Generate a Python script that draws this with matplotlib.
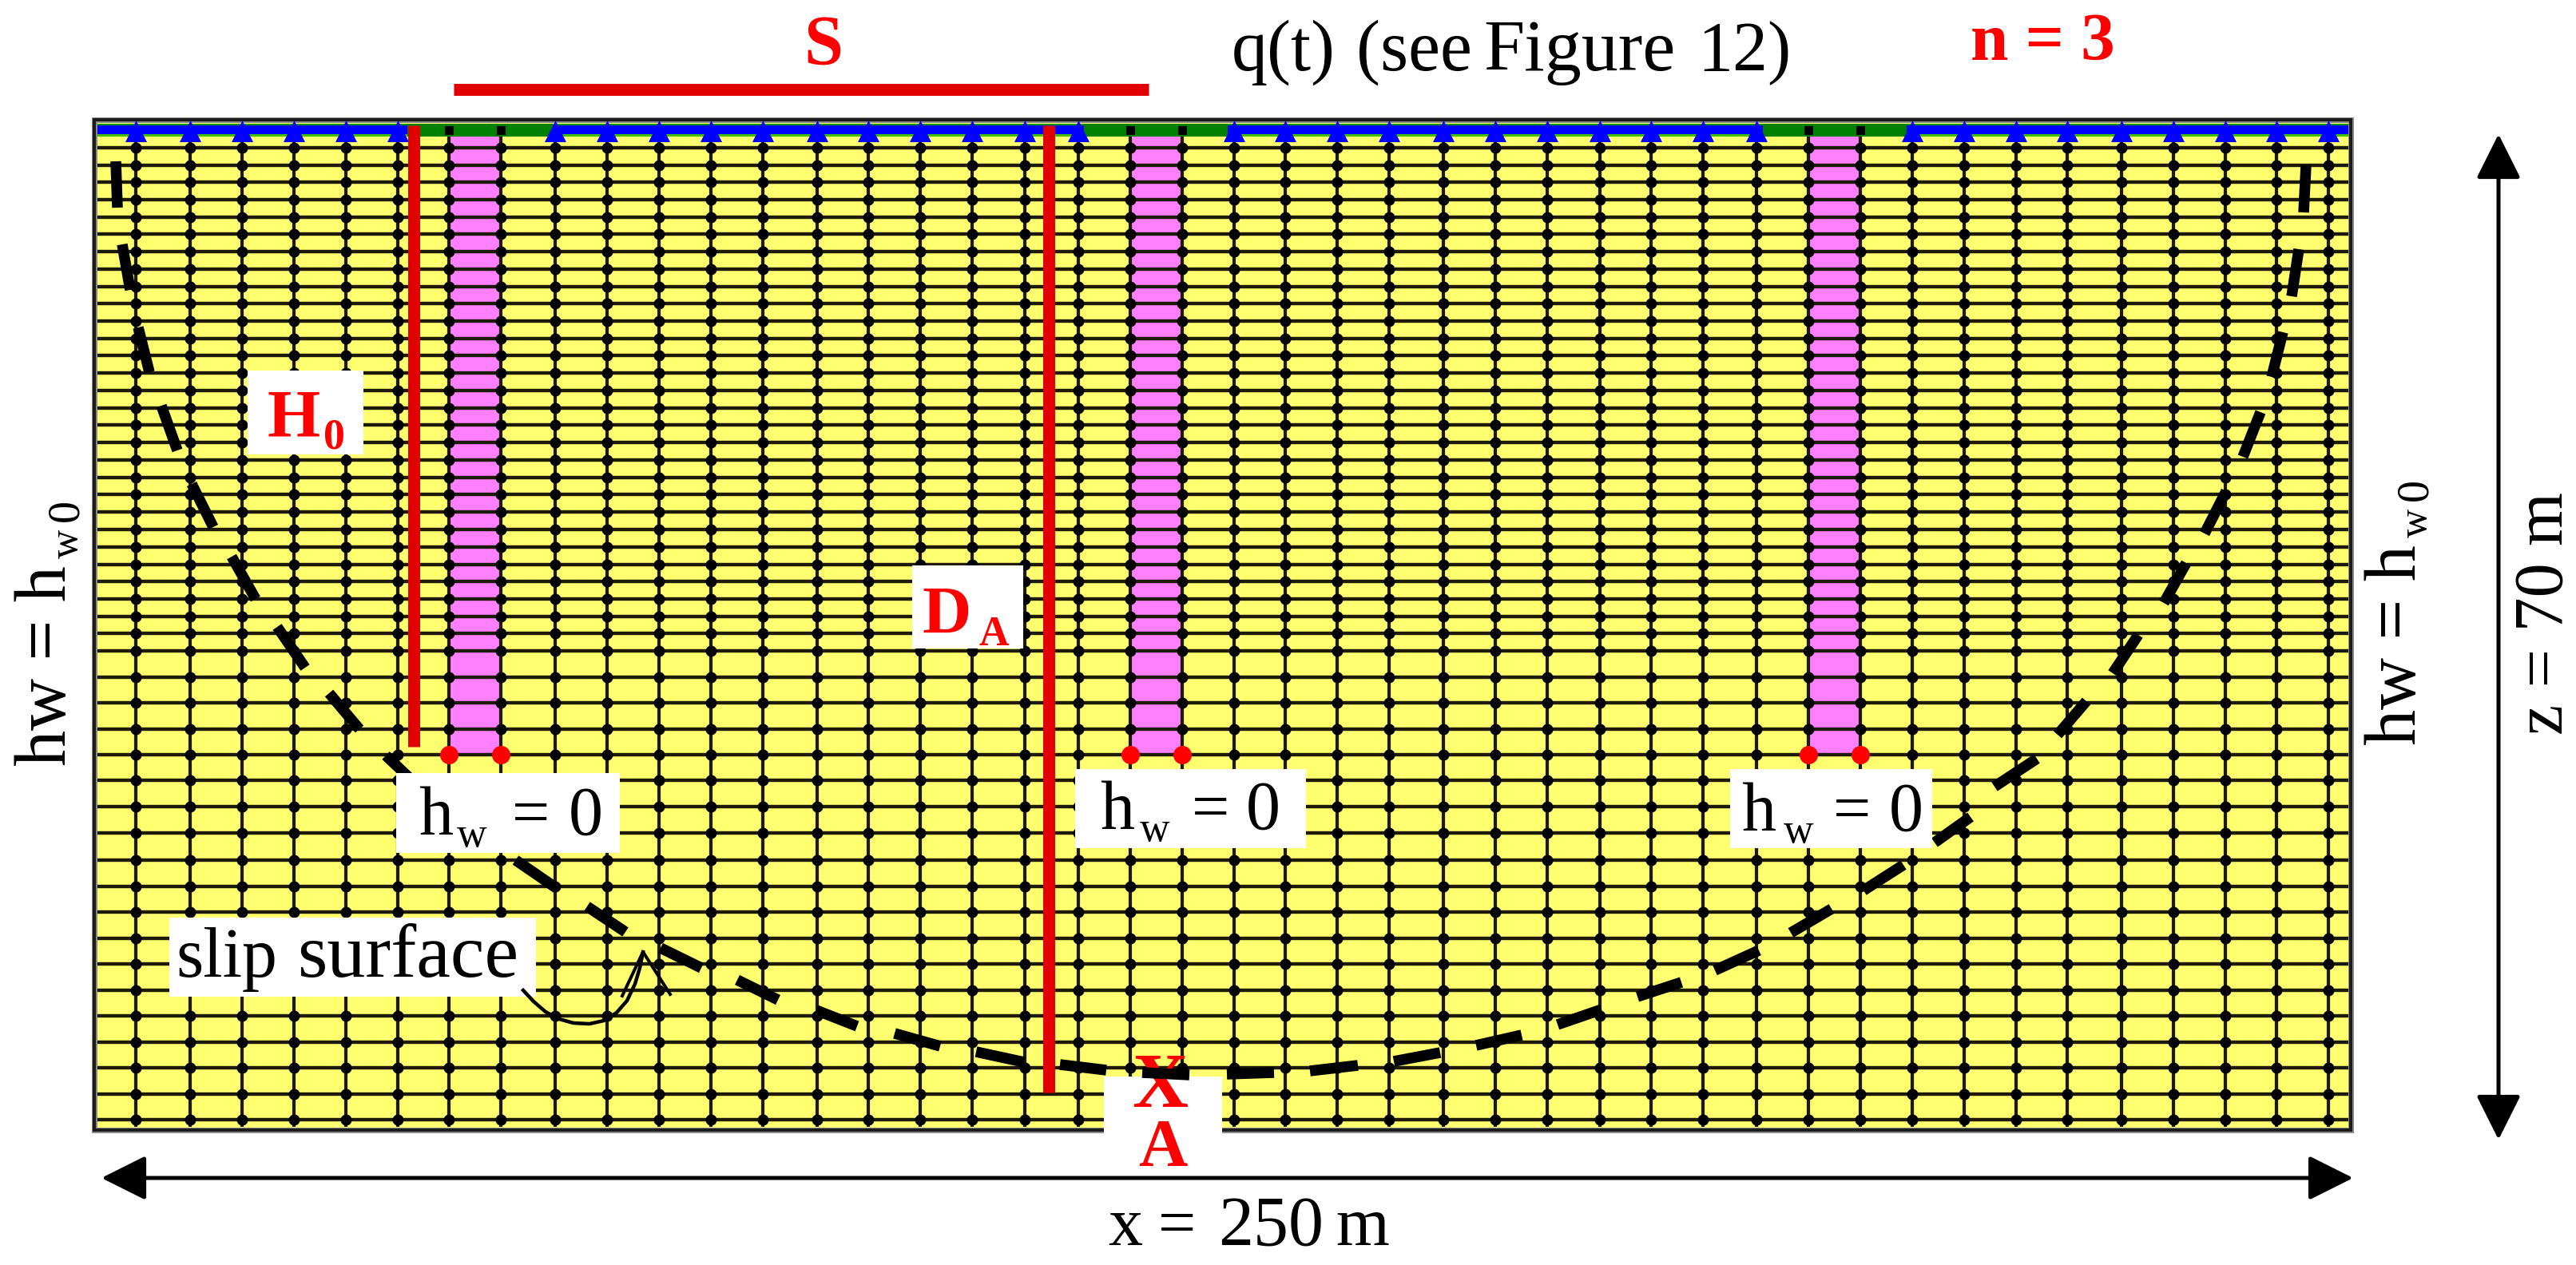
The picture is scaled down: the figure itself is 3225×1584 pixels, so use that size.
import matplotlib
matplotlib.use("Agg")
import matplotlib.pyplot as plt
from matplotlib.patches import Rectangle
import numpy as np

plt.rcParams['font.family'] = ['Liberation Serif', 'DejaVu Serif']

# All positions are in the drawing's own coordinates (reference scale).
column_x = [170, 238, 303, 368, 433, 498, 562, 627, 695, 760, 825, 890, 955, 1023, 1087,
            1152, 1217, 1283, 1350, 1415, 1480, 1545, 1609, 1674, 1739, 1807, 1872, 1937,
            2003, 2067, 2132, 2199, 2264, 2329, 2394, 2459, 2524, 2588, 2656, 2721, 2786,
            2850, 2915]
row_y = [185, 207, 228, 250, 272, 293, 315, 337, 359, 380, 402, 424, 445, 467, 489, 511,
         532, 554, 576, 598, 619, 641, 663, 685, 707, 728, 750, 772, 793, 815, 848, 880,
         913, 945, 977, 1010, 1043, 1077, 1110, 1142, 1175, 1207, 1240, 1272, 1305, 1337,
         1370, 1402]
well_left = [562, 1415, 2264]
well_right = [627, 1480, 2329]
undrained_gaps = [(510, 692), (1357, 1537), (2207, 2387)]

slip_start_x = [145, 153, 173, 202, 240, 290, 347, 412, 483, 645.5, 735, 827, 923, 1022, 1120,
                1222, 1327, 1430, 1536, 1640, 1745, 1848, 1950, 2050, 2147, 2242, 2333, 2422,
                2550, 2612, 2677, 2737, 2787, 2830, 2858, 2878, 2887]
slip_start_y = [202, 306, 410, 508, 606, 697, 785, 868, 946, 1077, 1135, 1187, 1227, 1265, 1294,
                1317, 1333, 1343, 1345, 1341, 1329, 1309, 1283, 1248, 1215, 1168, 1115, 1055,
                950, 878, 795, 705, 615, 516, 416, 312, 207]
slip_end_x = [147, 163, 187, 222, 267, 320, 382, 450, 540, 696.5, 783, 878, 974, 1073, 1177,
              1282, 1385, 1489, 1595, 1700, 1803, 1905, 2005, 2105, 2202, 2293, 2383, 2467,
              2497, 2576, 2645, 2709, 2760, 2808, 2844, 2869, 2884]
slip_end_y = [260, 363, 466, 564, 660, 750, 836, 913, 1000, 1112, 1167, 1212, 1252, 1285, 1310,
              1330, 1340, 1346, 1343, 1334, 1318, 1296, 1264, 1230, 1190, 1138, 1083, 1023,
              985, 920, 843, 755, 668, 572, 472, 371, 266]

pointer_x = [655, 668, 683, 700, 718, 738, 756, 772, 785, 795, 801, 805]
pointer_y = [1240, 1254, 1267, 1276, 1281, 1282, 1278, 1268, 1253, 1232, 1212, 1192]

RED = '#E00000'
TEXT_RED = '#FF0000'
YELLOW = '#FFFF70'
PINK = '#FF80FF'
GRID = '#1E1A08'
BLUE = '#0000FF'
GREEN = '#008000'


def px(v):
    return v * 0.72


fig = plt.figure(figsize=(32.25, 15.84), dpi=100)
ax = fig.add_axes([0, 0, 1, 1])
ax.set_xlim(0, 3225)
ax.set_ylim(1584, 0)
ax.axis('off')

# soil block
ax.add_patch(Rectangle((118, 150), 2825, 1265, fc=YELLOW, ec='none', zorder=1))

# drainage wells
for l, r in zip(well_left, well_right):
    ax.add_patch(Rectangle((l, 170), r - l, 775, fc=PINK, ec='none', zorder=2))

# mesh
ax.hlines(row_y, 122, 2940, color=GRID, lw=px(4.4), zorder=3)
ax.vlines(column_x, 170, 1411, color=GRID, lw=px(4.2), zorder=3)
gx, gy = np.meshgrid(column_x, row_y)
ax.scatter(gx.ravel(), gy.ravel(), s=px(14) ** 2, c='black', linewidths=0, zorder=4)

# top boundary strip
ax.add_patch(Rectangle((122, 155), 2818, 3, fc='#109010', ec='none', zorder=5))
ax.add_patch(Rectangle((122, 157), 2818, 11, fc=BLUE, ec='none', zorder=5))
ax.add_patch(Rectangle((122, 168), 2818, 3, fc='#40C000', ec='none', zorder=5))
for a, b in undrained_gaps:
    ax.add_patch(Rectangle((a, 155), b - a, 16, fc=GREEN, ec='none', zorder=5.1))
top_loaded = [x for x in column_x
              if not any(a < x < b for a, b in undrained_gaps)]
ax.scatter(top_loaded, [164] * len(top_loaded), marker='^', s=px(27) ** 2, c=BLUE,
           linewidths=0, zorder=6)
well_cols = well_left + well_right
ax.scatter(well_cols, [163] * len(well_cols), marker='s', s=px(11) ** 2, c='black',
           linewidths=0, zorder=6)
ax.scatter(well_cols, [945] * len(well_cols), s=px(23) ** 2, c='#FF0000',
           linewidths=0, zorder=6)

# frame
ax.add_patch(Rectangle((118, 150), 2825, 1265, fc='none', ec='#8A8A8A', lw=px(7), zorder=5.4))
ax.add_patch(Rectangle((118, 150), 2825, 1265, fc='none', ec='#1C1C1C', lw=px(4), zorder=5.5))

# red measures
ax.plot([568, 1438], [112, 112], color=RED, lw=px(15), solid_capstyle='butt', zorder=7)
ax.plot([518, 518], [157, 935], color=RED, lw=px(15), solid_capstyle='butt', zorder=7)
ax.plot([1313, 1313], [157, 1368], color=RED, lw=px(15), solid_capstyle='butt', zorder=7)

# box and letter X at point A, under the slip line
ax.add_patch(Rectangle((1382, 1348), 148, 122, fc='white', ec='none', zorder=8))
ax.text(1417, 1386, 'X', color=TEXT_RED, fontsize=px(97), fontweight='bold', zorder=9,
        ha='left', va='baseline')

# slip surface dashes
for x0, y0, x1, y1 in zip(slip_start_x, slip_start_y, slip_end_x, slip_end_y):
    ax.plot([x0, x1], [y0, y1], color='black', lw=px(13.5), solid_capstyle='butt', zorder=10)

# white label boxes
boxes = [(310, 464, 145, 105), (1142, 708, 139, 104), (496, 968, 280, 100),
         (1346, 963, 289, 99), (2166, 963, 253, 99), (212, 1149, 459, 99)]
for bx, by, bw, bh in boxes:
    ax.add_patch(Rectangle((bx, by), bw, bh, fc='white', ec='none', zorder=11))


def label(x, y, s, size, color='black', weight='normal', rotation=0):
    ax.text(x, y, s, color=color, fontsize=px(size), fontweight=weight, rotation=rotation,
            rotation_mode='anchor', ha='left', va='baseline', zorder=12)


# red labels
label(1006, 80, 'S', 88, TEXT_RED, 'bold')
label(2467, 75, 'n = 3', 85, TEXT_RED, 'bold')
label(334, 546, 'H', 85, TEXT_RED, 'bold')
label(405, 561, '0', 54, TEXT_RED, 'bold')
label(1155, 793, 'D', 85, TEXT_RED, 'bold')
label(1225, 808, 'A', 52, TEXT_RED, 'bold')
label(1425, 1460, 'A', 85, TEXT_RED, 'bold')

# black labels
for x0, chunk, size in zip([1542, 1698, 1857, 2125], ['q(t)', '(see', 'Figure', '12)'],
                           [90, 90, 92, 88]):
    label(x0, 88, chunk, size)

for h_x, base, w_x, eq_x, zero_x in [(524, 1045, 572, 641, 712),
                                     (1377, 1038, 1427, 1492, 1560),
                                     (2180, 1040, 2233, 2295, 2365)]:
    label(h_x, base, 'h', 86)
    label(w_x, base + 15, 'w', 52)
    label(eq_x, base, '=', 84)
    label(zero_x, base, '0', 86)

label(220, 1223, 'slip', 88)
label(372, 1223, 'surface', 96)
label(1387, 1559, 'x', 86)
label(1450, 1559, '=', 84)
label(1525, 1559, '250', 88)
label(1672, 1559, 'm', 86)

label(82, 959, 'hw = h', 90, rotation=90)
label(97, 699, 'w', 50, rotation=90)
label(97, 653, '0', 56, rotation=90)
label(3024, 933, 'hw = h', 90, rotation=90)
label(3038, 673, 'w', 50, rotation=90)
label(3038, 627, '0', 56, rotation=90)
label(3208, 920, 'z = 70 m', 86, rotation=90)

# pointer from the slip surface label
ax.plot(pointer_x, pointer_y, color='black', lw=px(4.5), zorder=12)
ax.plot([779, 805, 839], [1247, 1192, 1245], color='black', lw=px(4), zorder=12)

# dimension arrows
arrow = dict(arrowstyle='<|-|>,head_length=%.2f,head_width=%.2f' % (px(48), px(24)),
             mutation_scale=1, color='black', lw=px(5), shrinkA=0, shrinkB=0)
ax.annotate('', xy=(127, 1475), xytext=(2946, 1475), arrowprops=arrow, zorder=12)
ax.annotate('', xy=(3128, 168), xytext=(3128, 1427), arrowprops=arrow, zorder=12)

fig.savefig('out.png', dpi=100, facecolor='white')
